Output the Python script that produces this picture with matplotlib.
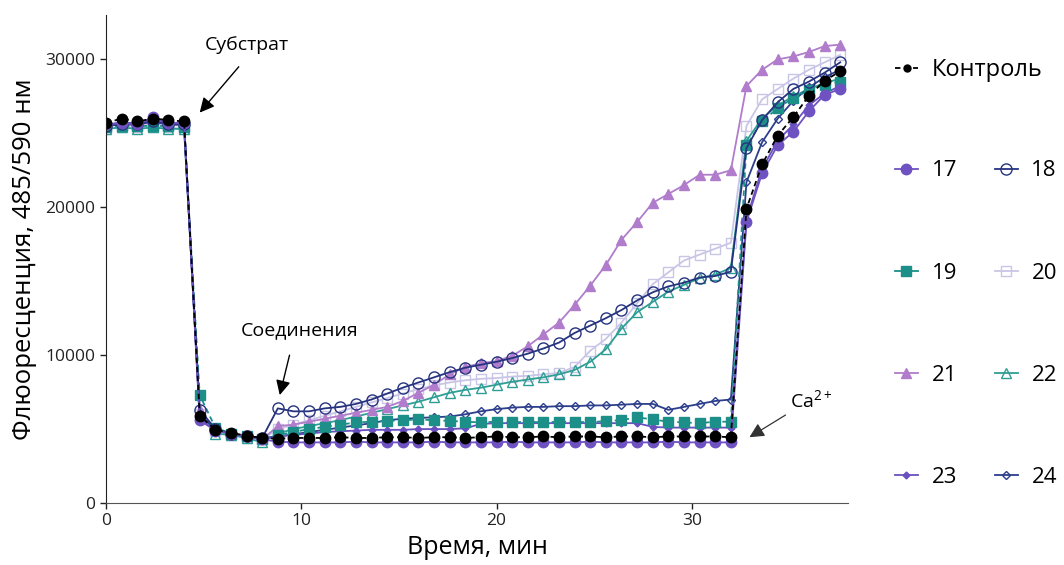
import numpy as np
import matplotlib
matplotlib.use('Agg')
import matplotlib.pyplot as plt
from matplotlib.lines import Line2D

plt.rcParams['font.family'] = ['Open Sans', 'DejaVu Sans']
plt.rcParams['mathtext.fontset'] = 'custom'
plt.rcParams['mathtext.rm'] = 'Open Sans'

# время измерения, мин
time = [0.0, 0.8, 1.6, 2.4, 3.2, 4.0, 4.8, 5.6, 6.4, 7.2, 8.0,
        8.8, 9.6, 10.4, 11.2, 12.0, 12.8, 13.6, 14.4, 15.2, 16.0,
        16.8, 17.6, 18.4, 19.2, 20.0, 20.8, 21.6, 22.4, 23.2, 24.0,
        24.8, 25.6, 26.4, 27.2, 28.0, 28.8, 29.6, 30.4, 31.2, 32.0,
        32.8, 33.6, 34.4, 35.2, 36.0, 36.8, 37.6]

control = [25700, 26000, 25800, 26000, 25900, 25800, 5900, 4950, 4750, 4550, 4400,
           4350, 4400, 4400, 4400, 4450, 4400, 4400, 4450, 4450, 4400,
           4450, 4450, 4400, 4450, 4500, 4450, 4450, 4500, 4450, 4500,
           4500, 4450, 4500, 4500, 4450, 4500, 4500, 4500, 4500, 4450,
           19900, 22900, 24850, 26100, 27550, 28550, 29200]
s17 = [25600, 25700, 25600, 26100, 25700, 25700, 5600, 4900, 4700, 4500, 4300,
       4150, 4100, 4100, 4100, 4100, 4150, 4100, 4100, 4100, 4100,
       4150, 4100, 4100, 4100, 4100, 4150, 4100, 4100, 4100, 4100,
       4150, 4100, 4100, 4100, 4100, 4150, 4100, 4100, 4100, 4100,
       19000, 22300, 24200, 25100, 26500, 27600, 28000]
s18 = [25500, 25600, 25600, 25800, 25600, 25600, 6300, 5000, 4700, 4500, 4400,
       6400, 6200, 6200, 6400, 6500, 6700, 7000, 7400, 7800, 8150,
       8500, 8850, 9150, 9350, 9550, 9800, 10100, 10450, 10850, 11500,
       12000, 12500, 13050, 13700, 14250, 14650, 14900, 15250, 15350, 15650,
       24000, 25900, 27100, 28000, 28500, 29100, 29800]
s19 = [25400, 25500, 25500, 25500, 25500, 25400, 7300, 5100, 4700, 4500, 4300,
       4600, 4800, 5000, 5150, 5300, 5450, 5500, 5550, 5600, 5650,
       5600, 5550, 5500, 5450, 5500, 5450, 5500, 5450, 5500, 5500,
       5450, 5550, 5600, 5800, 5650, 5500, 5450, 5400, 5500, 5500,
       24200, 25800, 26700, 27400, 27900, 28300, 28500]
s20 = [25300, 25400, 25400, 25400, 25400, 25300, 6000, 4900, 4600, 4400, 4300,
       5000, 5300, 5600, 5900, 6200, 6500, 6800, 7100, 7400, 7700,
       7950, 8150, 8300, 8400, 8450, 8550, 8600, 8700, 8800, 9200,
       10300, 11100, 12200, 13500, 14800, 15600, 16400, 16800, 17200, 17600,
       25500, 27300, 28000, 28700, 29300, 29800, 30300]
s21 = [25500, 25600, 25600, 25700, 25600, 25500, 6300, 5000, 4700, 4500, 4300,
       5200, 5300, 5500, 5700, 5900, 6100, 6300, 6500, 6900, 7450,
       8000, 8700, 9200, 9450, 9600, 9950, 10600, 11400, 12200, 13400,
       14700, 16100, 17800, 19000, 20300, 20900, 21500, 22200, 22200, 22500,
       28200, 29300, 30000, 30200, 30500, 30900, 31000]
s22 = [25300, 25400, 25300, 25400, 25300, 25300, 6200, 4700, 4600, 4400, 4100,
       4700, 5000, 5200, 5400, 5600, 5850, 6100, 6350, 6600, 6850,
       7150, 7450, 7650, 7800, 8000, 8200, 8350, 8500, 8700, 9000,
       9550, 10400, 11800, 12900, 13600, 14300, 14750, 15200, 15450, 15900,
       24500, 26000, 26900, 27500, 28000, 28400, 28700]
s23 = [25600, 25700, 25700, 25900, 25700, 25700, 5700, 4900, 4700, 4500, 4350,
       4500, 4600, 4700, 4800, 4850, 4900, 4950, 4950, 4950, 5000,
       5000, 5000, 5050, 5350, 5400, 5400, 5400, 5400, 5400, 5400,
       5400, 5400, 5400, 5400, 5150, 5100, 5100, 5100, 5100, 5100,
       19200, 22600, 24500, 25600, 26900, 27700, 28200]
s24 = [25600, 25700, 25700, 25800, 25700, 25700, 6000, 5000, 4700, 4500, 4400,
       4500, 4650, 4800, 4950, 5100, 5250, 5400, 5600, 5700, 5750,
       5800, 5850, 6000, 6200, 6350, 6450, 6500, 6500, 6550, 6550,
       6600, 6600, 6650, 6700, 6700, 6300, 6500, 6700, 6900, 7000,
       21700, 24400, 26000, 27200, 28100, 28800, 29300]

# подпись, данные, цвет, маркер, размер, заливка, стиль линии
styles = [
    ('17', s17, '#6F52C1', 'o', 7.5, True, '-'),
    ('18', s18, '#26337F', 'o', 8, False, '-'),
    ('19', s19, '#1B8F88', 's', 6.5, True, (0, (3, 2))),
    ('20', s20, '#C9C5E6', 's', 7, False, '-'),
    ('21', s21, '#B07CCB', '^', 7, True, '-'),
    ('22', s22, '#2E9E94', '^', 7, False, '-'),
    ('23', s23, '#6A4FC0', 'D', 3.5, True, '-'),
    ('24', s24, '#2C3E8C', 'D', 4.5, False, '-'),
]

fig = plt.figure(figsize=(10.64, 5.65), dpi=100)
ax = fig.add_axes([0.0996, 0.1097, 0.6974, 0.8637])

# сначала светлые серии, чтобы тёмные были сверху
order = ['20', '22', '21', '24', '23', '19', '18', '17']
lookup = {s[0]: s for s in styles}
handles = {}
for name in order:
    lab, y, c, m, ms, filled, ls = lookup[name]
    ax.plot(time, y, color=c, lw=1.3, ls=ls, marker=m, ms=ms,
            mfc=c if filled else 'none', mec=c, mew=1.0)
for lab, y, c, m, ms, filled, ls in styles:
    handles[lab] = Line2D([], [], color=c, lw=1.3, ls='-', marker=m, ms=ms,
                          mfc=c if filled else 'none', mec=c, mew=1.0)

ax.plot(time, control, color='black', lw=1.3, ls=(0, (3, 2)), marker='o', ms=7.5)
h_ctrl = Line2D([], [], color='black', lw=1.3, ls=(0, (3, 2)), marker='o', ms=5)

ax.set_xlim(0, 38)
ax.set_ylim(0, 33000)
ax.set_xticks([0, 10, 20, 30])
ax.set_yticks([0, 10000, 20000, 30000])
ax.tick_params(labelsize=12.5, length=4, width=1, colors='#222222')
for sp in ['top', 'right']:
    ax.spines[sp].set_visible(False)
ax.spines['left'].set_color('#222222')
ax.spines['bottom'].set_color('#555555')

ax.set_xlabel('Время, мин', fontsize=18, labelpad=4)
ax.set_ylabel('Флюоресценция, 485/590 нм', fontsize=18.5, labelpad=6)

# пометки моментов добавления
arrow = dict(arrowstyle='-|>', color='black', lw=1.0, mutation_scale=22,
             shrinkA=0, shrinkB=0)
ax.text(7.2, 31000, 'Субстрат', fontsize=14, ha='center', va='center')
ax.annotate('', xy=(4.8, 26400), xytext=(6.8, 29500), arrowprops=arrow)
ax.text(9.9, 11650, 'Соединения', fontsize=14, ha='center', va='center')
ax.annotate('', xy=(8.9, 7300), xytext=(9.4, 10000), arrowprops=arrow)
ax.text(36.1, 6900, 'Ca$^{\\mathregular{2+}}$', fontsize=14, ha='center', va='center')
ax.annotate('', xy=(32.95, 4450), xytext=(34.8, 5950),
            arrowprops=dict(arrow, color='#333333', lw=0.9))

fig.legend([h_ctrl], ['Контроль'], loc='upper left',
           bbox_to_anchor=(0.841, 0.8975), frameon=False, fontsize=17,
           handlelength=1.0, handletextpad=0.55, borderpad=0,
           borderaxespad=0)
names = ['17', '19', '21', '23', '18', '20', '22', '24']
fig.legend([handles[n] for n in names], names, ncol=2, loc='upper left',
           bbox_to_anchor=(0.841, 0.716), frameon=False, fontsize=16,
           handlelength=1.05, handletextpad=0.6, borderpad=0, borderaxespad=0,
           labelspacing=3.65, columnspacing=1.7)

fig.savefig('out.png', dpi=100)
